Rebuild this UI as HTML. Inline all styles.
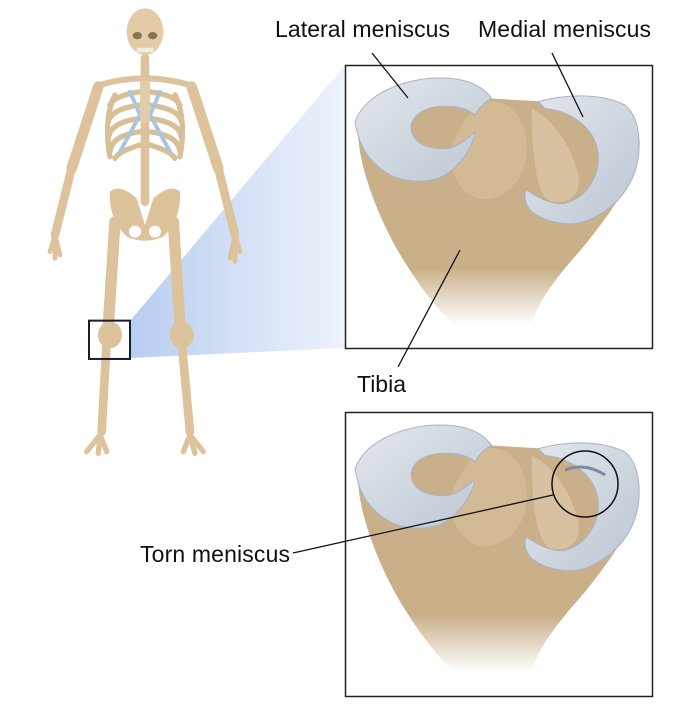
<!DOCTYPE html>
<html><head><meta charset="utf-8"><style>
html,body{margin:0;padding:0;background:#fff;}
svg{display:block;}
text{font-family:"Liberation Sans",sans-serif;font-size:23px;fill:#111;}
</style></head><body>
<svg width="677" height="722" viewBox="0 0 677 722" xmlns="http://www.w3.org/2000/svg">
<defs>
<linearGradient id="cone" x1="0" y1="0" x2="1" y2="0">
<stop offset="0" stop-color="#b9cdf0"/><stop offset="1" stop-color="#eef3fc"/>
</linearGradient>
<linearGradient id="bone" x1="0" y1="0" x2="0" y2="1">
<stop offset="0" stop-color="#c9b08a"/><stop offset="0.75" stop-color="#c9b089"/><stop offset="1" stop-color="#ffffff"/>
</linearGradient>
<linearGradient id="men" x1="0" y1="0" x2="1" y2="1">
<stop offset="0" stop-color="#e3e8ec"/><stop offset="1" stop-color="#bcc6d3"/>
</linearGradient>
<g id="knee">
<path d="M40,170 C30,260 80,420 160,560 C220,660 280,740 330,780 L560,780 C580,700 650,620 720,540 C800,440 880,330 880,240 L600,110 L430,100 L60,150 Z" fill="url(#bone)"/>
<path d="M420,110 C470,100 520,130 540,200 C560,300 520,380 440,400 C350,420 290,300 330,220 C360,160 390,120 420,110Z" fill="#d6bf9a" opacity="0.7"/>
<path d="M560,130 C620,160 680,240 700,330 C710,380 680,420 620,410 C580,400 560,300 560,130Z" fill="#dcc6a6" opacity="0.8"/>
<path d="M30,170 C60,90 160,50 250,40 C330,35 400,45 440,100 C420,110 400,130 390,150 C370,130 330,120 280,125 C230,130 190,160 200,200 C210,240 260,255 310,250 C340,245 370,220 390,200 C380,260 330,320 280,340 C230,355 160,350 120,320 C60,280 40,230 30,170Z" fill="url(#men)" stroke="#aab3c8" stroke-width="3"/>
<path d="M580,110 C650,90 760,80 840,120 C890,160 890,260 870,320 C840,400 790,440 720,470 C660,485 600,470 560,440 C540,420 535,390 545,375 C580,400 620,420 660,415 C720,400 760,340 760,280 C760,200 690,140 600,130 Z" fill="url(#men)" stroke="#aab3c8" stroke-width="3"/>
</g>
</defs>
<polygon points="130,321 345,65 345,348 130,358" fill="url(#cone)"/>
<g transform="translate(40,5) scale(0.3333)" stroke-linecap="round" fill="none">
<g stroke="#dcc39b">
<line x1="175" y1="245" x2="95" y2="490" stroke-width="32"/>
<line x1="455" y1="245" x2="535" y2="490" stroke-width="32"/>
<line x1="95" y1="490" x2="45" y2="690" stroke-width="26"/>
<line x1="535" y1="490" x2="585" y2="690" stroke-width="26"/>
<path d="M45,690 L30,740 M45,690 L45,760 M45,690 L60,750" stroke-width="14"/>
<path d="M585,690 L600,740 M585,690 L585,770 M585,690 L570,760" stroke-width="14"/>
<line x1="225" y1="650" x2="205" y2="960" stroke-width="34"/>
<line x1="400" y1="650" x2="420" y2="960" stroke-width="34"/>
<line x1="200" y1="1010" x2="185" y2="1280" stroke-width="26"/>
<line x1="425" y1="1010" x2="450" y2="1280" stroke-width="26"/>
<path d="M180,1290 L140,1340 M180,1290 L175,1345 M180,1290 L200,1340" stroke-width="16"/>
<path d="M450,1290 L430,1340 M450,1290 L465,1345 M450,1290 L490,1340" stroke-width="16"/>
<line x1="315" y1="160" x2="315" y2="590" stroke-width="26"/>
<path d="M180,240 Q315,200 450,240" stroke-width="18"/>
</g>
<ellipse cx="210" cy="990" rx="36" ry="40" fill="#dcc39b"/>
<ellipse cx="425" cy="990" rx="36" ry="40" fill="#dcc39b"/>
<g stroke="#d8bf95" stroke-width="16">
<path d="M225,270 Q190,340 210,455"/><path d="M405,270 Q440,340 420,455"/>
<path d="M305,260 Q225,270 210,300"/><path d="M325,260 Q405,270 420,300"/>
<path d="M305,300 Q215,310 205,350"/><path d="M325,300 Q415,310 425,350"/>
<path d="M305,340 Q210,350 205,400"/><path d="M325,340 Q420,350 425,400"/>
<path d="M305,380 Q215,390 210,440"/><path d="M325,380 Q415,390 420,440"/>
<path d="M300,420 Q235,440 225,460"/><path d="M330,420 Q395,440 405,460"/>
</g>
<path d="M270,260 L300,330 L240,440 M360,260 L330,330 L390,440" stroke="#a9c6e0" stroke-width="12"/>
<rect x="300" y="225" width="30" height="130" rx="12" fill="#e3ccaa"/>
<ellipse cx="315" cy="80" rx="55" ry="70" fill="#e2cba6"/>
<ellipse cx="292" cy="92" rx="14" ry="11" fill="#8a7258"/>
<ellipse cx="338" cy="92" rx="14" ry="11" fill="#8a7258"/>
<rect x="290" y="128" width="50" height="14" fill="#f1ece2"/>
<path d="M210,560 Q240,535 290,580 L315,660 L340,580 Q390,535 420,560 Q425,640 370,695 Q315,720 260,695 Q205,640 210,560Z" fill="#dcc39b"/>
<circle cx="285" cy="680" r="18" fill="#fff"/><circle cx="345" cy="680" r="18" fill="#fff"/>
<rect x="147" y="947" width="123" height="115" fill="none" stroke="#1a1a33" stroke-width="6"/>
</g>
<rect x="345.5" y="65.5" width="307" height="283" fill="#fff" stroke="#222" stroke-width="1.5"/>
<rect x="345.5" y="412.5" width="307" height="284" fill="#fff" stroke="#222" stroke-width="1.5"/>
<g transform="translate(345,65) scale(0.3333)"><use href="#knee"/></g>
<g transform="translate(345,412) scale(0.3333)"><use href="#knee"/></g>
<circle cx="585" cy="484" r="33" fill="none" stroke="#111" stroke-width="1.5"/>
<path d="M565,470 Q585,462 605,475" stroke="#7d8aa0" stroke-width="3" fill="none"/>
<g stroke="#111" stroke-width="1.3">
<line x1="372" y1="53" x2="408" y2="98"/>
<line x1="552" y1="53" x2="583" y2="117"/>
<line x1="460" y1="250" x2="398" y2="367"/>
<line x1="293" y1="553" x2="553" y2="495"/>
</g>
<text x="275" y="37" textLength="175">Lateral meniscus</text>
<text x="478" y="37" textLength="173">Medial meniscus</text>
<text x="357" y="392">Tibia</text>
<text x="140" y="562" textLength="150">Torn meniscus</text>
</svg>
</body></html>
